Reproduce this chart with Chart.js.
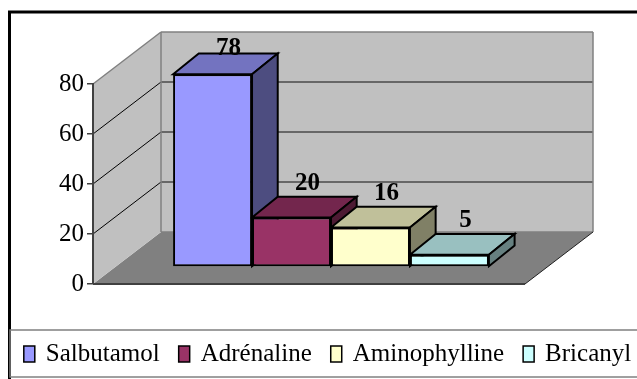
<!DOCTYPE html>
<html>
<head>
<meta charset="utf-8">
<script src="https://cdn.jsdelivr.net/npm/chart.js@4/dist/chart.umd.min.js"></script>
<style>
  html, body { margin: 0; padding: 0; background: #ffffff; }
  #wrap { width: 637px; height: 379px; position: relative; }
</style>
</head>
<body>
<div id="wrap"><canvas id="chart" width="637" height="379"></canvas></div>
<script>
// ---- data ----
const categories = [''];
const seriesNames = ['Salbutamol', 'Adrénaline', 'Aminophylline', 'Bricanyl'];
const seriesValues = [78, 20, 16, 5];
const yTickValues = [0, 20, 40, 60, 80];

// ---- colours: front, top and side faces of each column ----
const frontColors = ['#9999FF', '#993366', '#FFFFCC', '#CCFFFF'];
const topColors   = ['#7373C0', '#73264D', '#C0C09A', '#99C0C0'];
const sideColors  = ['#4D4D80', '#4D1A33', '#808066', '#668080'];

// ---- 3D projection settings ----
const WALL_DX = 68, WALL_DY = -52;   // depth of the walls / floor
const BAR_DX = 22, BAR_DY = -17;     // columns sit this far behind the front plane
const BAR_DEPTH_X = 26, BAR_DEPTH_Y = -21;
const PERSP = 0.988;                 // slight shrink of the column plane
const SERIF = '"Liberation Serif", "Times New Roman", serif';

function poly(ctx, pts, fill, stroke, lw) {
  ctx.beginPath();
  ctx.moveTo(pts[0][0], pts[0][1]);
  for (let i = 1; i < pts.length; i++) ctx.lineTo(pts[i][0], pts[i][1]);
  ctx.closePath();
  if (fill) { ctx.fillStyle = fill; ctx.fill(); }
  if (stroke) { ctx.strokeStyle = stroke; ctx.lineWidth = lw || 1; ctx.stroke(); }
}
function line(ctx, x1, y1, x2, y2, color, lw) {
  ctx.beginPath();
  ctx.moveTo(x1, y1); ctx.lineTo(x2, y2);
  ctx.strokeStyle = color; ctx.lineWidth = lw; ctx.stroke();
}

// Walls, floor, gridlines and the outer frame
const roomPlugin = {
  id: 'room',
  beforeDraw(chart) {
    const ctx = chart.ctx;
    const { left: L, right: R, top: T, bottom: B } = chart.chartArea;
    const ys = chart.scales.y;
    ctx.save();
    // outer frame
    ctx.strokeStyle = '#000'; ctx.lineWidth = 3;
    ctx.strokeRect(9.5, 12, chart.width + 10, chart.height + 10);

    // floor
    poly(ctx, [[L, B], [L + WALL_DX, B + WALL_DY], [R + WALL_DX, B + WALL_DY], [R, B]], '#808080');
    // left wall
    poly(ctx, [[L, T], [L + WALL_DX, T + WALL_DY], [L + WALL_DX, B + WALL_DY], [L, B]], '#C0C0C0');
    // back wall
    poly(ctx, [[L + WALL_DX, T + WALL_DY], [R + WALL_DX, T + WALL_DY], [R + WALL_DX, B + WALL_DY], [L + WALL_DX, B + WALL_DY]], '#C0C0C0');

    // gridlines
    const maxV = yTickValues[yTickValues.length - 1];
    yTickValues.forEach(v => {
      if (v === 0 || v === maxV) return;
      const y = ys.getPixelForValue(v);
      line(ctx, L + WALL_DX, y + WALL_DY, R + WALL_DX, y + WALL_DY, '#4a4a4a', 1.5);
      line(ctx, L, y, L + WALL_DX, y + WALL_DY, '#000', 1);
    });

    // wall edges
    line(ctx, L, T, L + WALL_DX, T + WALL_DY, '#808080', 1.5);
    line(ctx, L + WALL_DX, T + WALL_DY, R + WALL_DX, T + WALL_DY, '#808080', 1.5);
    line(ctx, R + WALL_DX, T + WALL_DY, R + WALL_DX, B + WALL_DY, '#808080', 1.5);
    line(ctx, L + WALL_DX, T + WALL_DY, L + WALL_DX, B + WALL_DY, '#808080', 1.5);
    line(ctx, L + WALL_DX, B + WALL_DY, R + WALL_DX, B + WALL_DY, '#808080', 1.5);
    // floor edges
    line(ctx, R, B, R + WALL_DX, B + WALL_DY, '#202020', 1);
    line(ctx, L, B, R, B, '#404040', 2);
    ctx.restore();
  }
};

// Columns: shift into the depth plane, add top and side faces, then value labels
function barGeometry(chart) {
  const out = [];
  chart.data.datasets.forEach((ds, i) => {
    const meta = chart.getDatasetMeta(i);
    meta.data.forEach((bar, j) => {
      const p = bar.getProps(['x', 'y', 'base', 'width'], true);
      out.push({ i, j, x: p.x, y: p.y, base: p.base, width: p.width, value: ds.data[j] });
    });
  });
  return out.sort((a, b) => a.x - b.x);
}

const columnPlugin = {
  id: 'columns3d',
  beforeDatasetsDraw(chart) {
    const ctx = chart.ctx;
    const a = chart.chartArea;
    const cx = (a.left + a.right) / 2, by = a.bottom;
    ctx.save();
    ctx.translate(BAR_DX, BAR_DY);
    ctx.translate(cx, by); ctx.scale(PERSP, PERSP); ctx.translate(-cx, -by);
    ctx.lineJoin = 'miter';
    barGeometry(chart).forEach(b => {
      const Lx = b.x - b.width / 2, Rx = b.x + b.width / 2, T = b.y, Bm = b.base;
      poly(ctx, [[Lx, T], [Lx + BAR_DEPTH_X, T + BAR_DEPTH_Y], [Rx + BAR_DEPTH_X, T + BAR_DEPTH_Y], [Rx, T]],
        topColors[b.i], '#000', 2);
      poly(ctx, [[Rx, T], [Rx + BAR_DEPTH_X, T + BAR_DEPTH_Y], [Rx + BAR_DEPTH_X, Bm + BAR_DEPTH_Y], [Rx, Bm]],
        sideColors[b.i], '#000', 2);
    });
  },
  afterDatasetsDraw(chart) {
    const ctx = chart.ctx;
    ctx.restore();
    const a = chart.chartArea;
    const cx = (a.left + a.right) / 2, by = a.bottom;
    const backTop = a.top + WALL_DY;
    ctx.save();
    ctx.font = 'bold 25px ' + SERIF;
    ctx.fillStyle = '#000';
    ctx.textAlign = 'center';
    ctx.textBaseline = 'alphabetic';
    barGeometry(chart).forEach(b => {
      const sx = cx + (b.x - cx) * PERSP + BAR_DX;
      const sy = by + (b.y - by) * PERSP + BAR_DY;
      const mid = Math.max(sy - 36, backTop + 14.5);
      ctx.fillText(String(b.value), sx + 16, mid + 8.5);
    });
    ctx.restore();
  }
};

// Legend box along the bottom
const legendPlugin = {
  id: 'legendRow',
  afterDraw(chart) {
    const ctx = chart.ctx;
    ctx.save();
    ctx.strokeStyle = '#808080'; ctx.lineWidth = 1.5;
    ctx.strokeRect(10, 330, chart.width + 10, 47);
    ctx.font = '25px ' + SERIF;
    const boxW = 11, boxH = 16, gap = 11, itemGap = 19;
    const widths = seriesNames.map(n => ctx.measureText(n).width);
    const total = widths.reduce((s, w) => s + w, 0) + seriesNames.length * (boxW + gap) + (seriesNames.length - 1) * itemGap;
    let x = 327.5 - total / 2;
    const baseline = 361;
    ctx.textBaseline = 'alphabetic';
    ctx.textAlign = 'left';
    seriesNames.forEach((n, i) => {
      ctx.fillStyle = frontColors[i];
      ctx.fillRect(x, baseline - 15, boxW, boxH);
      ctx.strokeStyle = '#000'; ctx.lineWidth = 1.5;
      ctx.strokeRect(x, baseline - 15, boxW, boxH);
      x += boxW + gap;
      ctx.fillStyle = '#000';
      ctx.fillText(n, x, baseline);
      x += widths[i] + itemGap;
    });
    ctx.restore();
  }
};

const datasets = seriesNames.map((name, i) => ({
  label: name,
  data: [seriesValues[i]],
  backgroundColor: frontColors[i],
  borderColor: '#000',
  borderWidth: 2,
  borderSkipped: false,
  clip: false
}));

new Chart(document.getElementById('chart'), {
  type: 'bar',
  data: { labels: categories, datasets },
  options: {
    responsive: false,
    animation: false,
    devicePixelRatio: 1,
    layout: { padding: { top: 84, bottom: 95, left: 0, right: 112 } },
    datasets: { bar: { categoryPercentage: 0.74, barPercentage: 1.0 } },
    plugins: { legend: { display: false }, tooltip: { enabled: false } },
    scales: {
      x: { display: false },
      y: {
        min: 0, max: 80,
        afterBuildTicks: s => { s.ticks = yTickValues.map(v => ({ value: v })); },
        afterFit: s => { s.width = 93; },
        grid: { drawOnChartArea: false, drawTicks: true, tickLength: 6, color: '#404040', lineWidth: 1.5 },
        border: { display: true, color: '#404040', width: 2 },
        ticks: { padding: 3, color: '#000', font: { family: SERIF, size: 25 } }
      }
    }
  },
  plugins: [roomPlugin, columnPlugin, legendPlugin]
});
</script>
</body>
</html>
